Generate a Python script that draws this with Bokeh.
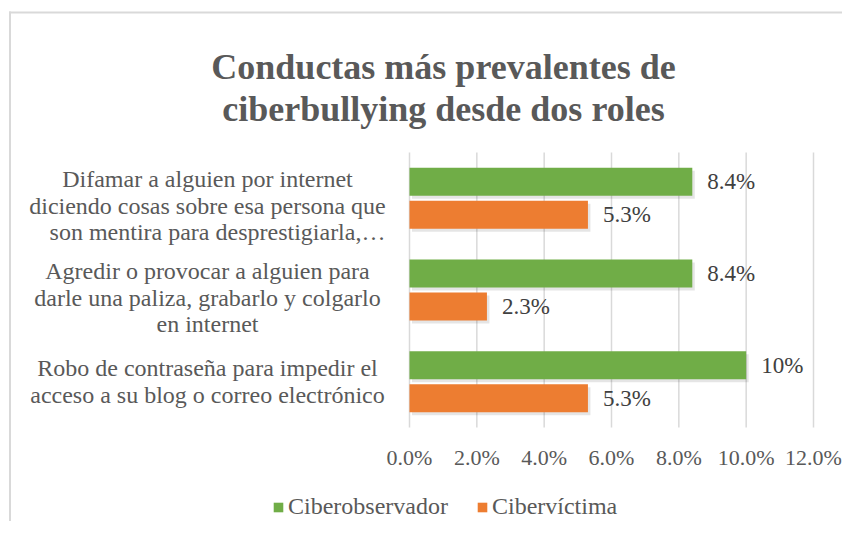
from bokeh.plotting import figure
from bokeh.models import (Range1d, FixedTicker, PrintfTickFormatter, Label, Legend,
                          LegendItem, PolyAnnotation, ColumnDataSource, LinearAxis)
from bokeh.embed import file_html
from bokeh.resources import INLINE
from bokeh.core.properties import value

# ---------------- data ----------------
title_lines = ["Conductas más prevalentes de", "ciberbullying desde dos roles"]
categories = [
    ["Difamar a alguien por internet",
     "diciendo cosas sobre esa persona que",
     "son mentira para desprestigiarla,…"],
    ["Agredir o provocar a alguien para",
     "darle una paliza, grabarlo y colgarlo",
     "en internet"],
    ["Robo de contraseña para impedir el",
     "acceso a su blog o correo electrónico"],
]
series_names = ["Ciberobservador", "Cibervíctima"]
ciberobservador = [8.4, 8.4, 10.0]
cibervictima = [5.3, 2.3, 5.3]
ciberobservador_labels = ["8.4%", "8.4%", "10%"]
cibervictima_labels = ["5.3%", "2.3%", "5.3%"]
x_ticks = [0, 2, 4, 6, 8, 10, 12]

# ---------------- layout ----------------
W, H = 842, 521
PL, PR, PT, PB = 409, 813, 152, 427        # plot-area edges (pixels)
XMAX, NCAT = 12, len(categories)
XPX = (PR - PL) / XMAX
YPX = (PB - PT) / NCAT

def cx(px):   # pixel x -> data x
    return (px - PL) / XPX

def cy(py):   # pixel y -> data y
    return (PB - py) / YPX

GREEN = "#70AD47"
ORANGE = "#ED7D31"
TEXT = "#595959"
FONT = "Liberation Serif"

p = figure(width=W, height=H, output_backend="svg", toolbar_location=None,
           x_range=Range1d(cx(0), cx(W)), y_range=Range1d(cy(H), cy(0)),
           x_axis_location=None, y_axis_location=None, title=None,
           min_border=0)
p.outline_line_color = None
p.background_fill_color = "white"
p.border_fill_color = "white"
p.grid.visible = False

# gridlines (plot area only)
p.segment(x0=x_ticks, x1=x_ticks, y0=[0] * len(x_ticks), y1=[NCAT] * len(x_ticks),
          line_color="#D9D9D9", line_width=1.5)

centers = [NCAT - i - 0.5 for i in range(NCAT)]
off = 0.18
bh = 0.305
src = ColumnDataSource(dict(
    yo=[c + off for c in centers], yv=[c - off for c in centers],
    obs=ciberobservador, vic=cibervictima,
    obs_l=ciberobservador_labels, vic_l=cibervictima_labels))

# soft shadows under the bars
sx, sy = 2.5 / XPX, 3 / YPX
for col, yc in (("obs", "yo"), ("vic", "yv")):
    p.hbar(y=[v - sy for v in src.data[yc]], left=sx,
           right=[v + sx for v in src.data[col]], height=bh,
           fill_color="black", fill_alpha=0.10, line_color=None)

r_obs = p.hbar(y="yo", left=0, right="obs", height=bh, source=src,
               fill_color=GREEN, line_color=None)
r_vic = p.hbar(y="yv", left=0, right="vic", height=bh, source=src,
               fill_color=ORANGE, line_color=None)

for xcol, ycol, tcol in (("obs", "yo", "obs_l"), ("vic", "yv", "vic_l")):
    p.text(x=xcol, y=ycol, text=tcol, source=src, x_offset=15,
           text_baseline="middle", text_align="left",
           text_font=value(FONT), text_font_size=value("23px"),
           text_color="#404040")

# value axis fixed at the bottom of the plot area
xaxis = LinearAxis(fixed_location=0, ticker=FixedTicker(ticks=x_ticks),
                   formatter=PrintfTickFormatter(format="%.1f%%"))
xaxis.axis_line_color = None
xaxis.major_tick_line_color = None
xaxis.minor_tick_line_color = None
xaxis.major_label_text_font = FONT
xaxis.major_label_text_font_size = "22px"
xaxis.major_label_text_color = TEXT
xaxis.major_label_standoff = 11
p.add_layout(xaxis, "below")

# title
for i, t in enumerate(title_lines):
    p.add_layout(Label(x=cx(443), y=cy(66.5 + i * 42), text=t,
                       text_align="center", text_baseline="alphabetic",
                       text_font=FONT, text_font_style="bold",
                       text_font_size="36px", text_color=TEXT))

# category labels
LINE = 26.5
for c, lines in zip(centers, categories):
    n = len(lines)
    cpx = PB - c * YPX
    shift = 0 if n == 3 else -7.5
    for j, t in enumerate(lines):
        base = cpx + 7.5 + (j - (n - 1) / 2) * LINE + shift
        xc = 217 if t.endswith("…") else 207
        p.add_layout(Label(x=cx(xc), y=cy(base), text=t,
                           text_align="center", text_baseline="alphabetic",
                           text_font=FONT, text_font_size="24px",
                           text_color=TEXT))

# legend
legend = Legend(items=[LegendItem(label=series_names[0], renderers=[r_obs]),
                       LegendItem(label=series_names[1], renderers=[r_vic])],
                orientation="horizontal", location=(272, 1),
                border_line_color=None, background_fill_alpha=0,
                padding=0, margin=0, spacing=28,
                glyph_width=12, glyph_height=12, label_standoff=4,
                label_text_font=FONT, label_text_font_size="24px",
                label_text_color=TEXT)
p.add_layout(legend)

# chart-area border (left and top edges)
for xs, ys in (([8.5, 10.5, 10.5, 8.5], [11, 11, 560, 560]),
               ([8.5, 900, 900, 8.5], [11, 11, 13, 13])):
    p.add_layout(PolyAnnotation(xs=[cx(v) for v in xs], ys=[cy(v) for v in ys],
                                fill_color="#D9D9D9", fill_alpha=1,
                                line_color=None))

open("out.html", "w").write(file_html(p, INLINE))
